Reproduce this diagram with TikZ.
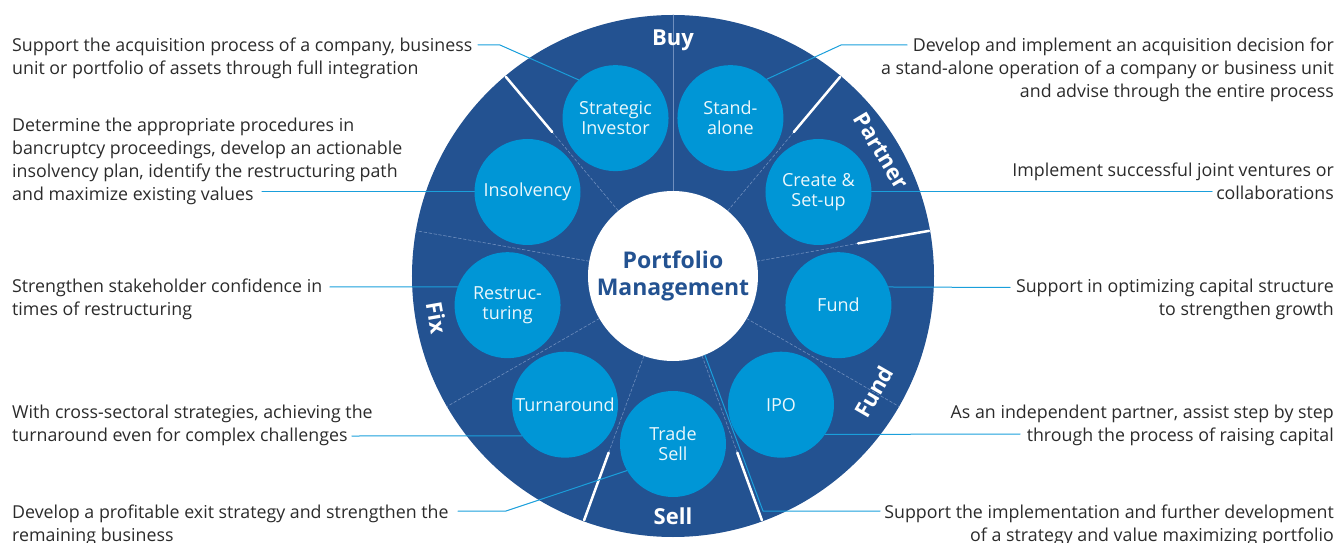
\documentclass[tikz,border=0pt]{standalone}
\usepackage{fontspec}
\setmainfont{Open Sans}
\definecolor{ring}{HTML}{235291}
\definecolor{bub}{HTML}{0096D6}
\definecolor{lnk}{HTML}{1A9FDB}
\definecolor{txt}{HTML}{2B2B2B}
\definecolor{spk}{HTML}{6F8FBE}
\begin{document}
\begin{tikzpicture}[x=1pt,y=1pt,line join=round,line cap=round,
  bub/.style={circle,fill=bub,minimum size=106pt,inner sep=0pt,align=center,text=white!92!bub,font=\fontsize{18}{20}\selectfont},
  desc/.style={text=txt,inner sep=0pt,font=\fontsize{17.8}{23}\selectfont},
  lnk/.style={draw=lnk,line width=1pt},
  seg/.style={text=white,inner sep=0pt,font=\fontsize{22}{24}\selectfont\bfseries}]
\def\R{261} \def\rc{168} \def\ri{85} % radii
\useasboundingbox (-673,-267) rectangle (665,276);
\fill[ring] (0,0) circle (\R);
% spokes
\draw[spk,line width=.6pt] (90:\ri) -- (90:\R);
\foreach \a in {130,170,...,410} \draw[spk,line width=.6pt,densely dashed] (\a:\ri) -- (\a:\R);
\foreach \a in {130,50,10,-70,-110} \draw[white,line width=2.5pt] (\a:188) -- (\a:\R-1);
\node[seg] (buy) at (90:236) {Buy};
\node[seg,rotate=-59] (partner) at (31:243) {Partner};
\node[seg,rotate=60] (fundl) at (-30:232) {Fund};
\node[seg] (sell) at (-90:240) {Sell};
\node[seg,rotate=-80] (fix) at (-170:240) {Fix};
% circles
\node[circle,fill=white,minimum size=170pt,inner sep=0pt,align=center,text=ring,font=\fontsize{23}{27}\selectfont\bfseries] (pm) at (0,0) {Portfolio\\Management};
\node[bub] (si) at (110:\rc) {Strategic\\Investor};
\node[bub] (sa) at (70:\rc) {Stand-\\alone};
\node[bub] (cs) at (30:\rc) {Create \&\\Set-up};
\node[bub] (fu) at (-10:\rc) {Fund};
\node[bub] (ipo) at (-50:\rc) {IPO};
\node[bub] (ts) at (-90:\rc) {Trade\\Sell};
\node[bub] (tu) at (-130:\rc) {Turnaround};
\node[bub] (re) at (-170:\rc) {Restruc-\\turing};
\node[bub] (ins) at (150:\rc) {Insolvency};
% texts (base = last line)
\node[desc,anchor=base west,align=left] (t1) at (-661,201) {Support the acquisition process of a company, business\\unit or portfolio of assets through full integration};
\node[desc,anchor=base west,align=left] (t2) at (-661,75) {Determine the appropriate procedures in\\bancruptcy proceedings, develop an actionable\\insolvency plan, identify the restructuring path\\and maximize existing values};
\node[desc,anchor=base west,align=left] (t3) at (-661,-40) {Strengthen stakeholder confidence in\\times of restructuring};
\node[desc,anchor=base west,align=left] (t4) at (-661,-165) {With cross-sectoral strategies, achieving the\\turnaround even for complex challenges};
\node[desc,anchor=base west,align=left] (t5) at (-661,-265) {Develop a profitable exit strategy and strengthen the\\remaining business};
\node[desc,anchor=base east,align=right] (t6) at (661,178) {Develop and implement an acquisition decision for\\a stand-alone operation of a company or business unit\\and advise through the entire process};
\node[desc,anchor=base east,align=right] (t7) at (661,76) {Implement successful joint ventures or\\collaborations};
\node[desc,anchor=base east,align=right] (t8) at (661,-40) {Support in optimizing capital structure\\to strengthen growth};
\node[desc,anchor=base east,align=right] (t9) at (661,-165) {As an independent partner, assist step by step\\through the process of raising capital};
\node[desc,anchor=base east,align=right] (t10) at (661,-265) {Support the implementation and further development\\of a strategy and value maximizing portfolio};
% connectors
\coordinate (c1) at (-195,231); \coordinate (c2) at (-411,84);
\coordinate (c3) at (-343,-11); \coordinate (c4) at (-321,-160);
\coordinate (c5) at (-215,-235); \coordinate (c6) at (234,231);
\coordinate (c7) at (539,84); \coordinate (c8) at (337,-11.5);
\coordinate (c9) at (347,-158); \coordinate (c10) at (207,-235);
\draw[lnk] (c1) -- ++(22,0) -- (si.134);
\draw[lnk] (c2) -- (ins.west);
\draw[lnk] (c3) -- (re.160);
\draw[lnk] (c4) -- (tu.216);
\draw[lnk] (c5) -- ++(48,0) -- (ts.210);
\draw[lnk] (c6) -- ++(-66,0) -- (sa.47);
\draw[lnk] (c7) -- (cs.east);
\draw[lnk] (c8) -- (fu.20);
\draw[lnk] (c9) -- (ipo.-34);
\draw[lnk] (pm.-68) -- (90,-235) -- (c10);
\end{tikzpicture}
\end{document}
